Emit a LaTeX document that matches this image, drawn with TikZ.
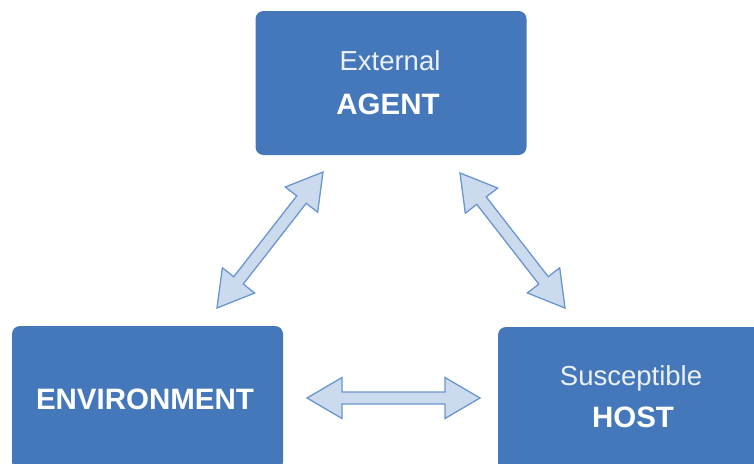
\documentclass[tikz,border=0pt]{standalone}
\usepackage{fontspec}
\setmainfont{Liberation Sans}
\usetikzlibrary{calc}
\definecolor{boxblue}{RGB}{68,120,186}
\definecolor{arrfill}{RGB}{204,218,238}
\definecolor{arrline}{RGB}{106,150,208}
\newcommand\twowayarrow[2]{%
 \draw[twoway] (#1)
 -- ($(#1)!35pt!(#2)!20.5pt!90:(#2)$)
 -- ($(#1)!35pt!(#2)!6pt!90:(#2)$)
 -- ($(#2)!35pt!(#1)!6pt!-90:(#1)$)
 -- ($(#2)!35pt!(#1)!20.5pt!-90:(#1)$)
 -- (#2)
 -- ($(#2)!35pt!(#1)!20.5pt!90:(#1)$)
 -- ($(#2)!35pt!(#1)!6pt!90:(#1)$)
 -- ($(#1)!35pt!(#2)!6pt!-90:(#2)$)
 -- ($(#1)!35pt!(#2)!20.5pt!-90:(#2)$)
 -- cycle;}
\tikzset{
  box/.style={fill=boxblue, rounded corners=8pt, minimum width=271pt, minimum height=144pt, inner sep=0pt},
  litetext/.style={text=white!90!boxblue, font=\fontsize{27.5}{30}\selectfont, anchor=base, inner sep=0pt},
  boldtext/.style={text=white, font=\fontsize{29.5}{32}\selectfont\bfseries, anchor=base, inner sep=0pt},
  twoway/.style={fill=arrfill, draw=arrline, line width=1.3pt, line join=miter}
}
\begin{document}
\begin{tikzpicture}[x=1pt,y=-1pt]
\useasboundingbox (0,0) rectangle (754,463);
\fill[white] (0,0) rectangle (754,463);
% boxes
\node[box] (agent) at (391,83) {};
\node[box] (env) at (147.5,398) {};
\node[box] (host) at (633.5,399) {};
% texts
\node[litetext] (agentl1) at (390,70) {External};
\node[boldtext] (agentl2) at (388,114) {AGENT};
\node[boldtext] (envl) at (145,409) {ENVIRONMENT};
\node[litetext] (hostl1) at (631,385.5) {Susceptible};
\node[boldtext] (hostl2) at (633,427) {HOST};
% arrow tips
\coordinate (a1) at (323,172);
\coordinate (a2) at (217,308);
\coordinate (b1) at (460,173);
\coordinate (b2) at (565,308);
\coordinate (c1) at (307,398);
\coordinate (c2) at (480,398);
\twowayarrow{a1}{a2}
\twowayarrow{b1}{b2}
\twowayarrow{c1}{c2}
\end{tikzpicture}
\end{document}
